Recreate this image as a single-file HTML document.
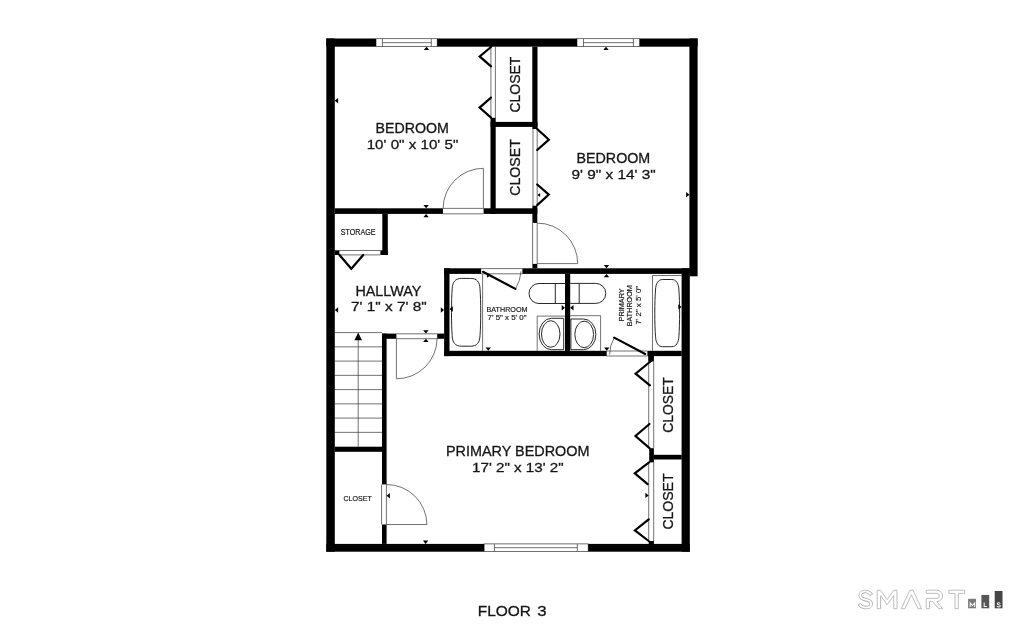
<!DOCTYPE html>
<html><head><meta charset="utf-8"><title>Floor 3</title>
<style>
html,body{margin:0;padding:0;background:#fff;overflow:hidden}
svg{display:block}
text{font-family:"Liberation Sans",sans-serif;fill:#161616;stroke:#161616;stroke-width:0.3px}
text.sm{stroke-width:0.18px}
#labels,#logo{opacity:0.999}
</style></head><body>
<svg width="1024" height="630" viewBox="0 0 1024 630">
<rect width="1024" height="630" fill="#fff"/>
<g id="thin">
<rect x="376" y="38.7" width="61.19999999999999" height="7.899999999999999" fill="#fff" stroke="#3a3a3a" stroke-width="0.72" />
<path d="M382.4 38.7V46.6M431.3 38.7V46.6M382.4 42.650000000000006H431.3" stroke="#3a3a3a" stroke-width="0.72" fill="none"/>
<rect x="577" y="38.7" width="62.700000000000045" height="7.899999999999999" fill="#fff" stroke="#3a3a3a" stroke-width="0.72" />
<path d="M583.5 38.7V46.6M633.4 38.7V46.6M583.5 42.650000000000006H633.4" stroke="#3a3a3a" stroke-width="0.72" fill="none"/>
<rect x="484.1" y="543.9" width="104.10000000000002" height="7.600000000000023" fill="#fff" stroke="#3a3a3a" stroke-width="0.72" />
<path d="M494.4 543.9V551.5M577.3 543.9V551.5M494.4 547.7H577.3" stroke="#3a3a3a" stroke-width="0.72" fill="none"/>
<path d="M334.8 332.60H382M334.8 346.85H382M334.8 361.10H382M334.8 375.35H382M334.8 389.60H382M334.8 403.85H382M334.8 418.10H382M334.8 432.35H382M358.2 338V446.7" stroke="#3a3a3a" stroke-width="0.72" fill="none"/>
<path d="M354.4 340.2L362 340.2L358.2 332.4Z" fill="#000"/>
<path d="M443 208.4H483.5M443 213.8H483.5M483.4 208.4V168.3A40.3 40.3 0 0 0 443.1 208.4" stroke="#3a3a3a" stroke-width="0.72" fill="none"/>
<path d="M532.6 223V263.8M537.2 223V263.8M537.2 263.6H577.7A40.5 40.5 0 0 0 537.2 223.1" stroke="#3a3a3a" stroke-width="0.72" fill="none"/>
<path d="M396.4 333.8H437.2M396.4 338.7H437.2M396.4 338.7V378.8A40.6 40.6 0 0 0 437.1 338.7" stroke="#3a3a3a" stroke-width="0.72" fill="none"/>
<path d="M381.6 484.4V524.5M386.4 484.4V524.5M386.4 524.5H426.9A40.4 40.4 0 0 0 386.4 484.5" stroke="#3a3a3a" stroke-width="0.72" fill="none"/>
<path d="M481.1 268.6H522.4M481.1 273.8H522.4M515.6 288.8A38.5 38.5 0 0 0 521 271.4" stroke="#3a3a3a" stroke-width="0.72" fill="none"/>
<path d="M483 271.8L515.4 288.9" stroke="#000" stroke-width="2.2" fill="none" stroke-linecap="round"/>
<path d="M606.7 351H647.4M606.7 356H647.4M614.2 337.6A35.8 35.8 0 0 0 609.6 354.6" stroke="#3a3a3a" stroke-width="0.72" fill="none"/>
<path d="M614.2 337.6L645.2 354" stroke="#000" stroke-width="2.2" fill="none" stroke-linecap="round"/>
<path d="M490.9 46.7V117.8M495.4 46.7V117.8" stroke="#3a3a3a" stroke-width="0.72" fill="none"/>
<path d="M491 47L479.7 56.4L491 66.3M491 97.6L479.6 107.6L491 117.6" stroke="#000" stroke-width="2.2" fill="none" stroke-linecap="round" stroke-linejoin="miter"/>
<path d="M533 129V205.7M537.2 129V205.7" stroke="#3a3a3a" stroke-width="0.72" fill="none"/>
<path d="M537.2 129L548.9 139.7L537.2 150M537.2 184.5L548.8 194.6L537.2 205.1" stroke="#000" stroke-width="2.2" fill="none" stroke-linecap="round" stroke-linejoin="miter"/>
<path d="M648.7 361.5V448.2M653.7 361.5V448.2" stroke="#3a3a3a" stroke-width="0.72" fill="none"/>
<path d="M651 361L635.6 373.7L649.9 385.3M649.5 424L635.5 436L649.5 448.2" stroke="#000" stroke-width="2.2" fill="none" stroke-linecap="round" stroke-linejoin="miter"/>
<path d="M648.7 462.4V541M653.7 462.4V541" stroke="#3a3a3a" stroke-width="0.72" fill="none"/>
<path d="M649 462.4L634.8 473.3L647.6 484.2M648.7 519.4L634.9 530.4L648.7 541" stroke="#000" stroke-width="2.2" fill="none" stroke-linecap="round" stroke-linejoin="miter"/>
<path d="M339.4 250.5H380.4M339.4 254.9H380.4" stroke="#3a3a3a" stroke-width="0.72" fill="none"/>
<path d="M339.5 255L351.3 268.8L363.2 255" stroke="#000" stroke-width="2.2" fill="none" stroke-linecap="round" stroke-linejoin="miter"/>
<path d="M482.6 273.9V350.8" stroke="#3a3a3a" stroke-width="0.72" fill="none"/>
<path d="M461.5 278.4H470.70000000000005C477.09999999999997 278.4 479.8 282.2 480.0 288.9C480.95 300.4 480.95 324.2 480.0 335.7C479.8 342.4 477.09999999999997 346.2 470.70000000000005 346.2H461.5C455.1 346.2 452.4 342.4 452.2 335.7C451.25 324.2 451.25 300.4 452.2 288.9C452.4 282.2 455.1 278.4 461.5 278.4Z" stroke="#1e1e1e" stroke-width="0.95" fill="none"/>
<path d="M652.5 350.8V275.5H681.6" stroke="#3a3a3a" stroke-width="0.72" fill="none"/>
<path d="M662.6 279.5H671.8000000000001C676.0 279.5 678.6999999999999 283.3 678.9 290.0C679.85 301.5 679.85 324.7 678.9 336.2C678.6999999999999 342.9 676.0 346.7 671.8000000000001 346.7H662.6C658.4 346.7 655.7 342.9 655.5 336.2C654.55 324.7 654.55 301.5 655.5 290.0C655.7 283.3 658.4 279.5 662.6 279.5Z" stroke="#1e1e1e" stroke-width="0.95" fill="none"/>
<path d="M565 283.5H539A10 10 0 0 0 539 303.5H565M555.3 283.5V303.5" stroke="#1e1e1e" stroke-width="0.95" fill="none"/>
<path d="M570.2 283.4H595.8A10 10 0 0 1 595.8 303.4H570.2M579.2 283.4V303.4" stroke="#1e1e1e" stroke-width="0.95" fill="none"/>
<path d="M565 316.1H537.2V350.8" stroke="#3a3a3a" stroke-width="0.72" fill="none"/>
<path d="M563.7 318.3H551.4A12.3 15.7 0 0 0 551.4 349.7H563.7Z" stroke="#1e1e1e" stroke-width="0.95" fill="none"/>
<ellipse cx="550.75" cy="334" rx="9.25" ry="13.3" stroke="#1e1e1e" stroke-width="0.95" fill="none"/>
<path d="M570.2 315.7H600.6V350.8" stroke="#3a3a3a" stroke-width="0.72" fill="none"/>
<path d="M570.9 319H583.5A12.4 15.35 0 0 1 583.5 349.7H570.9Z" stroke="#1e1e1e" stroke-width="0.95" fill="none"/>
<ellipse cx="584.2" cy="334.4" rx="9.35" ry="13.3" stroke="#1e1e1e" stroke-width="0.95" fill="none"/>
<path d="M426.5 46.7L423.8 50.0L429.2 50.0Z" fill="#000"/>
<path d="M606.0 46.7L603.3 50.0L608.7 50.0Z" fill="#000"/>
<path d="M334.8 100.8L338.1 98.1L338.1 103.5Z" fill="#000"/>
<path d="M689.4 194.8L686.1 192.1L686.1 197.5Z" fill="#000"/>
<path d="M426.1 208.3L423.4 205.0L428.8 205.0Z" fill="#000"/>
<path d="M426.1 213.9L423.4 217.2L428.8 217.2Z" fill="#000"/>
<path d="M606.5 268.3L603.8 265.0L609.2 265.0Z" fill="#000"/>
<path d="M606.5 273.9L603.8 277.2L609.2 277.2Z" fill="#000"/>
<path d="M334.8 310.0L338.1 307.3L338.1 312.7Z" fill="#000"/>
<path d="M444.1 310.0L440.8 307.3L440.8 312.7Z" fill="#000"/>
<path d="M449.5 309.0L452.8 306.3L452.8 311.7Z" fill="#000"/>
<path d="M565.0 307.8L561.7 305.1L561.7 310.5Z" fill="#000"/>
<path d="M570.2 307.8L573.5 305.1L573.5 310.5Z" fill="#000"/>
<path d="M681.6 306.9L678.3 304.2L678.3 309.6Z" fill="#000"/>
<path d="M488.3 350.8L485.6 347.5L491.0 347.5Z" fill="#000"/>
<path d="M606.8 350.8L604.1 347.5L609.5 347.5Z" fill="#000"/>
<path d="M425.9 333.6L423.2 330.3L428.6 330.3Z" fill="#000"/>
<path d="M425.9 338.8L423.2 342.1L428.6 342.1Z" fill="#000"/>
<path d="M386.6 495.7L389.9 493.0L389.9 498.4Z" fill="#000"/>
<path d="M425.6 543.9L422.9 540.6L428.3 540.6Z" fill="#000"/>
<path d="M648.7 495.4L645.4 492.7L645.4 498.1Z" fill="#000"/>
<path d="M537.5 195.0L540.1 193.0L540.1 197.0Z" fill="#000"/>
<path d="M490.5 275.6L486.9 273.4L486.9 277.8Z" fill="#000"/>
</g>
<g id="walls" fill="#000">
<rect x="326.3" y="38.5" width="8.5" height="513.2"/>
<rect x="326.3" y="38.5" width="49.7" height="8.2"/>
<rect x="437.2" y="38.5" width="139.8" height="8.2"/>
<rect x="639.7" y="38.5" width="57.9" height="8.2"/>
<rect x="689.4" y="38.5" width="8.2" height="237.8"/>
<rect x="681.6" y="268.3" width="8.2" height="283.4"/>
<rect x="326.3" y="543.9" width="157.8" height="7.8"/>
<rect x="588.2" y="543.9" width="101.6" height="7.8"/>
<rect x="532.3" y="46.7" width="5.2" height="82.3"/>
<rect x="490.6" y="121.9" width="46.9" height="5.0"/>
<rect x="490.5" y="117.8" width="5.2" height="96.1"/>
<rect x="334.8" y="208.3" width="108.1" height="5.6"/>
<rect x="483.6" y="208.3" width="53.7" height="5.6"/>
<rect x="532.4" y="205.7" width="4.9" height="17.2"/>
<rect x="532.4" y="263.9" width="4.9" height="4.5"/>
<rect x="522.4" y="268.3" width="167.2" height="5.6"/>
<rect x="444.1" y="268.3" width="37.0" height="5.6"/>
<rect x="444.1" y="268.3" width="5.4" height="87.8"/>
<rect x="444.1" y="350.8" width="162.6" height="5.3"/>
<rect x="647.4" y="350.8" width="34.3" height="5.3"/>
<rect x="565.0" y="273.9" width="5.2" height="77.0"/>
<rect x="648.2" y="356.0" width="5.7" height="5.5"/>
<rect x="382.3" y="213.9" width="5.5" height="41.1"/>
<rect x="334.8" y="250.3" width="4.6" height="4.7"/>
<rect x="380.4" y="250.3" width="7.4" height="4.7"/>
<rect x="382.0" y="333.6" width="14.4" height="5.2"/>
<rect x="437.2" y="333.6" width="7.0" height="5.2"/>
<rect x="382.0" y="333.6" width="4.6" height="150.8"/>
<rect x="382.0" y="524.5" width="4.6" height="19.4"/>
<rect x="334.8" y="446.7" width="47.3" height="5.1"/>
<rect x="653.9" y="454.8" width="27.8" height="4.7"/>
<rect x="649.2" y="448.2" width="4.7" height="14.2"/>
<rect x="648.7" y="541.0" width="5.2" height="3.0"/>
</g>
<g id="labels">
<text x="375.5" y="132.8" font-size="14.4" textLength="73.4" lengthAdjust="spacingAndGlyphs">BEDROOM</text>
<text x="366.7" y="149.1" font-size="13.6" textLength="91.6" lengthAdjust="spacingAndGlyphs">10' 0&quot; x 10' 5&quot;</text>
<text x="576.5" y="163.0" font-size="14.4" textLength="73.7" lengthAdjust="spacingAndGlyphs">BEDROOM</text>
<text x="571.5" y="178.6" font-size="13.6" textLength="84.2" lengthAdjust="spacingAndGlyphs">9' 9&quot; x 14' 3&quot;</text>
<text x="355.4" y="295.8" font-size="14.4" textLength="65.9" lengthAdjust="spacingAndGlyphs">HALLWAY</text>
<text x="351.0" y="311.4" font-size="13.6" textLength="75.7" lengthAdjust="spacingAndGlyphs">7' 1&quot; x 7' 8&quot;</text>
<text x="445.9" y="455.5" font-size="14.4" textLength="143.6" lengthAdjust="spacingAndGlyphs">PRIMARY BEDROOM</text>
<text x="472.0" y="471.7" font-size="13.6" textLength="91.7" lengthAdjust="spacingAndGlyphs">17' 2&quot; x 13' 2&quot;</text>
<text class="sm" x="340.7" y="234.9" font-size="8.4" textLength="34.8" lengthAdjust="spacingAndGlyphs">STORAGE</text>
<text class="sm" x="343.5" y="500.9" font-size="8.0" textLength="28.3" lengthAdjust="spacingAndGlyphs">CLOSET</text>
<text class="sm" x="486.5" y="311.6" font-size="8.0" textLength="41.0" lengthAdjust="spacingAndGlyphs">BATHROOM</text>
<text class="sm" x="487.6" y="320.1" font-size="8.0" textLength="38.9" lengthAdjust="spacingAndGlyphs">7' 5&quot; x 5' 0&quot;</text>
<text x="477.8" y="615.6" font-size="14.9" textLength="53.2" lengthAdjust="spacingAndGlyphs">FLOOR</text>
<text x="537.3" y="615.6" font-size="14.9" textLength="9.4" lengthAdjust="spacingAndGlyphs">3</text>
<text transform="translate(519.5 112.6) rotate(-90)" x="0" y="0" font-size="14.3" textLength="56.0" lengthAdjust="spacingAndGlyphs">CLOSET</text>
<text transform="translate(519.5 195.8) rotate(-90)" x="0" y="0" font-size="14.3" textLength="56.7" lengthAdjust="spacingAndGlyphs">CLOSET</text>
<text transform="translate(673.2 432.8) rotate(-90)" x="0" y="0" font-size="14.3" textLength="55.6" lengthAdjust="spacingAndGlyphs">CLOSET</text>
<text transform="translate(673.0 529.6) rotate(-90)" x="0" y="0" font-size="14.3" textLength="56.1" lengthAdjust="spacingAndGlyphs">CLOSET</text>
<text class="sm" transform="translate(623.8 321.3) rotate(-90)" x="0" y="0" font-size="8.0" textLength="32.9" lengthAdjust="spacingAndGlyphs">PRIMARY</text>
<text class="sm" transform="translate(632.4 326.2) rotate(-90)" x="0" y="0" font-size="8.0" textLength="40.9" lengthAdjust="spacingAndGlyphs">BATHROOM</text>
<text class="sm" transform="translate(641.0 324.5) rotate(-90)" x="0" y="0" font-size="8.0" textLength="38.6" lengthAdjust="spacingAndGlyphs">7' 2&quot; x 5' 0&quot;</text>
</g>
<g id="logo">
<path d="M871.7 595L871.2 594.4C869.5 592.3 867.6 591.4 865.4 591.4C862.3 591.4 860.2 593 860.2 595.5C860.2 598.3 862.8 599 865.7 599.7C868.7 600.4 871.2 601.3 871.2 603.7C871.2 606.2 868.8 607.6 865.8 607.6C863.2 607.6 861 606.6 859.4 604.5L858.9 603.9" stroke="#adadad" stroke-width="3.5" fill="none"/>
<path d="M871.2 594.4C869.5 592.3 867.6 591.4 865.4 591.4C862.3 591.4 860.2 593 860.2 595.5C860.2 598.3 862.8 599 865.7 599.7C868.7 600.4 871.2 601.3 871.2 603.7C871.2 606.2 868.8 607.6 865.8 607.6C863.2 607.6 861 606.6 859.4 604.5" stroke="#fff" stroke-width="1.9" fill="none"/>
<path d="M877.2 608.7V590.2H880.4L887.1 599.6L893.8 590.2H897V608.7H893.7V595.6L887.1 604.8L880.5 595.6V608.7Z" stroke="#adadad" stroke-width="0.8" fill="#fff" stroke-linejoin="miter"/>
<path d="M901.3 608.7L909.8 590.2H913L921.6 608.7H918L911.4 594.8L904.9 608.7Z" stroke="#adadad" stroke-width="0.8" fill="#fff" stroke-linejoin="miter"/>
<path d="M926.2 590.2H936.9A5.7 5.7 0 0 1 936.9 601.6L942.6 608.7H938.7L932.6 601.6H929.5V608.7H926.2V598.4H936.9A2.5 2.5 0 0 0 936.9 593.4H926.2Z" stroke="#adadad" stroke-width="0.8" fill="#fff" stroke-linejoin="miter"/>
<path d="M948.8 590.2H964.6V593.4H958.3V608.7H955V593.4H948.8Z" stroke="#adadad" stroke-width="0.8" fill="#fff" stroke-linejoin="miter"/>
<rect x="968.1" y="598.8" width="7.9" height="9.5" fill="#7a7a7a"/>
<rect x="981.4" y="594.9" width="7.8" height="13.4" fill="#565656"/>
<rect x="994.7" y="591" width="7.8" height="17.3" fill="#454545"/>
<path d="M970.2 606.9V602.9L972.45 605.5L974.7 602.9V606.9" stroke="#f4f4f4" stroke-width="1.05" fill="none" stroke-linejoin="miter"/>
<path d="M984.2 602.4V606.4H986.8" stroke="#f4f4f4" stroke-width="1.05" fill="none" stroke-linejoin="miter"/>
<path d="M1000.4 603.5C999.6 602.6 997.2 602.5 997.2 603.8C997.2 605.1 1000.4 604.5 1000.4 605.9C1000.4 607.2 997.7 607.1 996.8 606.1" stroke="#f4f4f4" stroke-width="1.05" fill="none" stroke-linejoin="miter"/>
</g>
</svg>
</body></html>
